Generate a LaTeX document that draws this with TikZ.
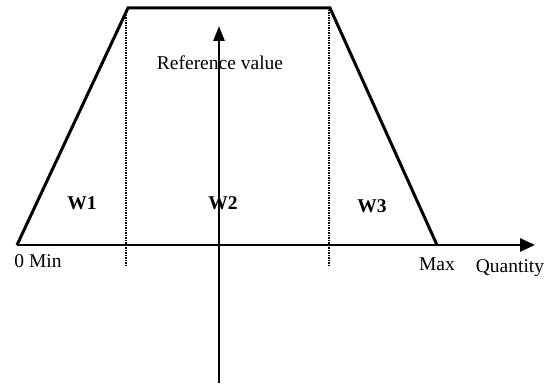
\documentclass[tikz,border=0pt]{standalone}
\usepackage{fontspec}
\setmainfont{Liberation Serif}
\usepackage{tikz}
\usetikzlibrary{arrows.meta}
\tikzset{
  shape line/.style={line width=3pt, line join=miter},
  axis/.style={line width=2.8pt, -{Triangle[length=15pt, width=13pt]}},
  vaxis/.style={line width=2.8pt, -{Triangle[length=15pt, width=11pt]}},
  bound/.style={line width=2pt, dash pattern=on 1.5pt off 1pt},
  lbl/.style={anchor=base, inner sep=0pt, font=\fontsize{19.5}{22}\selectfont},
  wlbl/.style={lbl, font=\fontsize{19.5}{22}\selectfont\bfseries}
}
\begin{document}
\begin{tikzpicture}[x=1pt, y=-1pt]
  \useasboundingbox (0,0) rectangle (544,387);

  % corners of the trapezoid
  \coordinate (min) at (17,245);
  \coordinate (tl) at (128,8);
  \coordinate (tr) at (330,8);
  \coordinate (max) at (437,245);

  % axis ends
  \coordinate (xend) at (535,245);
  \coordinate (ybot) at (219,383);
  \coordinate (ytop) at (219,26);

  % dotted limits
  \coordinate (d1top) at (126,10);
  \coordinate (d1bot) at (126,267);
  \coordinate (d2top) at (329,10);
  \coordinate (d2bot) at (329,267);

  \draw[bound] (d1top) -- (d1bot);
  \draw[bound] (d2top) -- (d2bot);

  \draw[axis] (min) -- (xend);
  \draw[vaxis] (ybot) -- (ytop);

  \draw[shape line] (min) -- (tl) -- (tr) -- (max);

  \node[lbl] (ref) at (220,70) {Reference value};
  \node[wlbl] (w1) at (82,210) {W1};
  \node[wlbl] (w2) at (223,210) {W2};
  \node[wlbl] (w3) at (372,213) {W3};
  \node[lbl] (minlbl) at (38,268) {0 Min};
  \node[lbl] (maxlbl) at (437,271) {Max};
  \node[lbl] (qty) at (510,273) {Quantity};
\end{tikzpicture}
\end{document}
